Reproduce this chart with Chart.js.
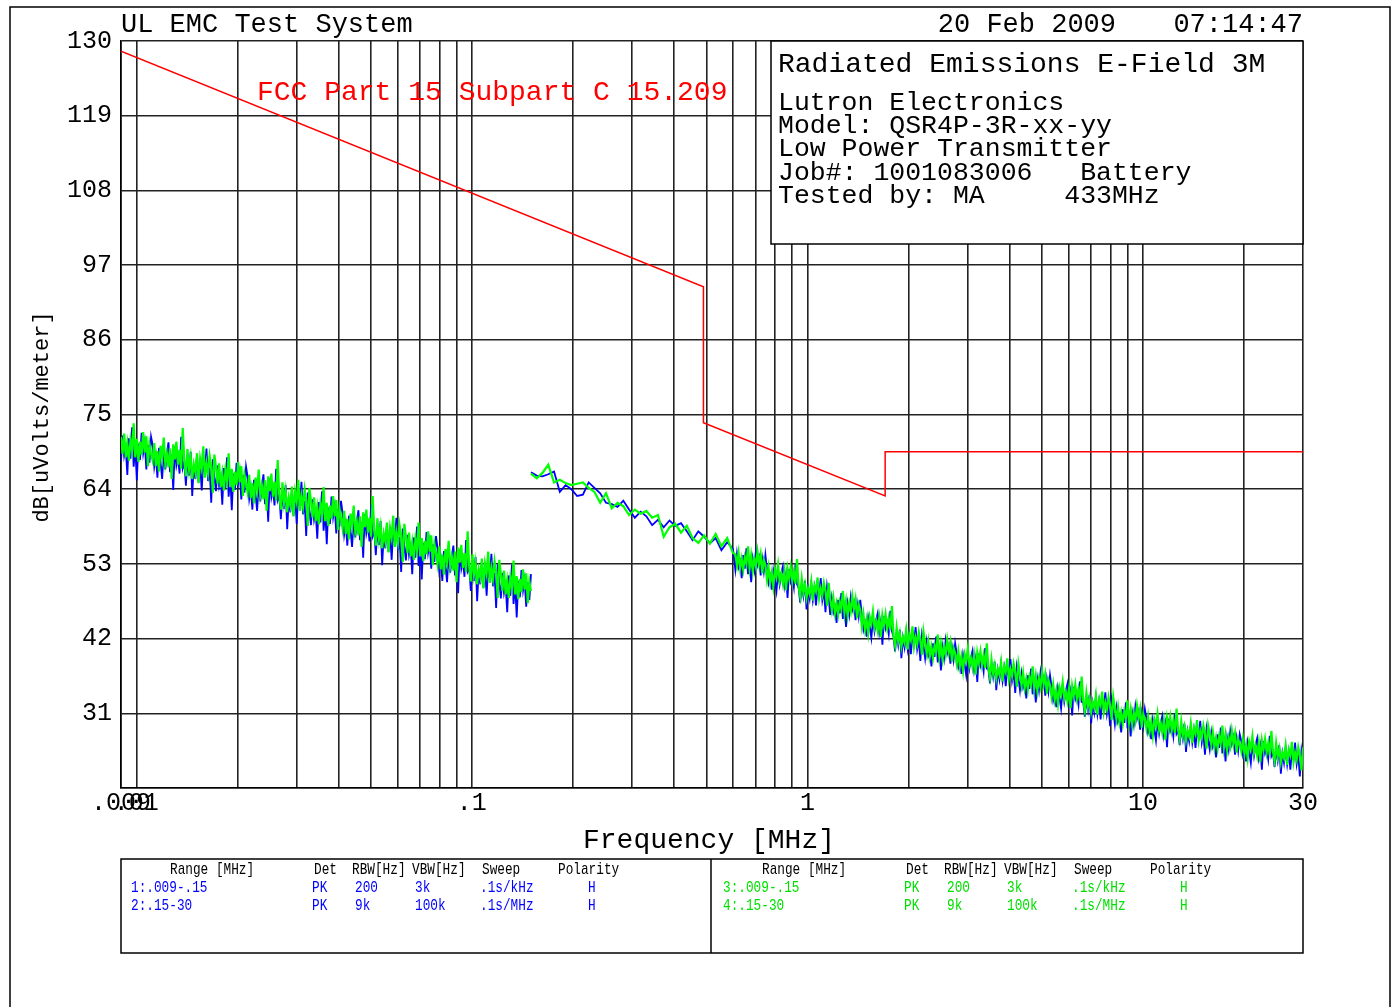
<!DOCTYPE html>
<html>
<head>
<meta charset="utf-8">
<title>Radiated Emissions E-Field 3M</title>
<script src="https://cdn.jsdelivr.net/npm/chart.js@4.4.1/dist/chart.umd.min.js"></script>
<style>
  body { margin: 0; background: #fff; }
  canvas { display: block; }
</style>
</head>
<body>
<canvas id="emcChart" width="1395" height="1007"></canvas>
<script>
const MONO = '"Liberation Mono", "DejaVu Sans Mono", monospace';

// Frequency grid (MHz) and the decades that carry a label
const xGrid = [0.009, 0.01, 0.02, 0.03, 0.04, 0.05, 0.06, 0.07, 0.08, 0.09,
               0.1, 0.2, 0.3, 0.4, 0.5, 0.6, 0.7, 0.8, 0.9,
               1, 2, 3, 4, 5, 6, 7, 8, 9, 10, 20, 30];
const xLabelValues = [0.009, 0.01, 0.1, 1, 10, 30];
const xLabelText = ['.009', '.01', '.1', '1', '10', '30'];

// FCC Part 15.209 limit, dBuV/m at 3 m
const limitFreq = [0.009, 0.49, 0.49, 1.705, 1.705, 30];
const limitLevel = [128.5, 93.8, 73.8, 63.0, 69.5, 69.5];

// Sweep limits (MHz)
const lowStart = 0.009, lowStop = 0.15;
const midStart = 0.15, midStop = 0.6;
const highStart = 0.61, highStop = 30;

// Trace 1 (blue) .009-.15 MHz
const blueLow = [
  68.1, 71.9, 68.9, 70.1, 66.1, 71.5, 68.5, 73.1, 67.3, 70.3, 65.3, 70.7, 68.3, 72.3, 69.3, 70.9, 66.9, 70.5, 67.9, 71.7,
  70.5, 67.3, 68.9, 65.7, 70.1, 67.9, 65.5, 69.7, 66.9, 69.3, 70.9, 66.5, 69.1, 63.9, 70.3, 67.5, 68.7, 66.3, 71.7, 67.1,
  68.0, 64.5, 68.5, 66.0, 69.5, 63.0, 67.5, 65.5, 69.0, 65.0, 67.8, 63.8, 68.2, 66.4, 70.0, 65.2, 67.2, 62.0, 68.4, 65.8,
  63.7, 67.5, 64.5, 65.7, 61.7, 67.1, 64.1, 68.7, 62.9, 65.9, 60.9, 66.3, 63.9, 67.9, 64.9, 66.5, 62.5, 66.1, 63.5, 67.3,
  65.8, 62.6, 64.2, 61.0, 65.4, 63.2, 60.8, 65.0, 62.2, 64.6, 66.2, 61.8, 64.4, 59.2, 65.6, 62.8, 64.0, 61.6, 67.0, 62.4,
  63.1, 59.6, 63.6, 61.1, 64.6, 58.1, 62.6, 60.6, 64.1, 60.1, 62.9, 58.9, 63.3, 61.5, 65.1, 60.3, 62.3, 57.1, 63.5, 60.9,
  58.7, 62.5, 59.5, 60.7, 56.7, 62.1, 59.1, 63.7, 57.9, 60.9, 55.9, 61.3, 58.9, 62.9, 59.9, 61.5, 57.5, 61.1, 58.5, 62.3,
  60.5, 57.3, 58.9, 55.7, 60.1, 57.9, 55.5, 59.7, 56.9, 59.3, 60.9, 56.5, 59.1, 53.9, 60.3, 57.5, 58.7, 56.3, 61.7, 57.1,
  57.8, 54.3, 58.3, 55.8, 59.3, 52.8, 57.3, 55.3, 58.8, 54.8, 57.6, 53.6, 58.0, 56.2, 59.8, 55.0, 57.0, 51.8, 58.2, 55.6,
  53.5, 57.3, 54.3, 55.5, 51.5, 56.9, 53.9, 58.5, 52.7, 55.7, 50.7, 56.1, 53.7, 57.7, 54.7, 56.3, 52.3, 55.9, 53.3, 57.1,
  55.3, 52.1, 53.7, 50.5, 54.9, 52.7, 50.3, 54.5, 51.7, 54.1, 55.7, 51.3, 53.9, 48.7, 55.1, 52.3, 53.5, 51.1, 56.5, 51.9,
  52.5, 49.0, 53.0, 50.5, 54.0, 47.5, 52.0, 50.0, 53.5, 49.5, 52.3, 48.3, 52.7, 50.9, 54.5, 49.7, 51.7, 46.5, 52.9, 50.3,
  47.9, 51.7, 48.7, 49.9, 45.9, 51.3, 48.3, 52.9, 47.1, 50.1, 45.1, 50.5, 48.1, 52.1, 49.1, 50.7, 46.7, 50.3, 47.7, 51.5
];

// Trace 3 (green) .009-.15 MHz
const greenLow = [
  71.7, 69.2, 72.2, 68.7, 70.7, 68.2, 71.2, 69.7, 73.7, 68.7, 71.4, 68.0, 71.0, 69.0, 72.4, 69.4, 71.8, 67.4, 70.6, 69.2,
  68.2, 70.8, 67.4, 69.6, 66.6, 70.4, 68.6, 71.6, 67.8, 69.2, 67.2, 70.0, 65.5, 70.6, 68.4, 71.0, 67.6, 69.8, 67.0, 73.0,
  68.1, 65.9, 69.9, 66.9, 68.7, 65.5, 67.7, 66.5, 69.3, 64.9, 68.5, 67.1, 70.3, 65.7, 67.9, 66.3, 68.9, 67.3, 63.5, 69.1,
  67.3, 64.8, 67.8, 64.3, 66.3, 63.8, 66.8, 65.3, 69.3, 64.3, 67.0, 63.6, 66.6, 64.6, 68.0, 65.0, 67.4, 63.0, 66.2, 64.8,
  63.5, 66.1, 62.7, 64.9, 61.9, 65.7, 63.9, 66.9, 63.1, 64.5, 62.5, 65.3, 60.8, 65.9, 63.7, 66.3, 62.9, 65.1, 62.3, 68.3,
  63.2, 61.0, 65.0, 62.0, 63.8, 60.6, 62.8, 61.6, 64.4, 60.0, 63.6, 62.2, 65.4, 60.8, 63.0, 61.4, 64.0, 62.4, 58.6, 64.2,
  62.3, 59.8, 62.8, 59.3, 61.3, 58.8, 61.8, 60.3, 64.3, 59.3, 62.0, 58.6, 61.6, 59.6, 63.0, 60.0, 62.4, 58.0, 61.2, 59.8,
  58.2, 60.8, 57.4, 59.6, 56.6, 60.4, 58.6, 61.6, 57.8, 59.2, 57.2, 60.0, 55.5, 60.6, 58.4, 61.0, 57.6, 59.8, 57.0, 63.0,
  57.9, 55.7, 59.7, 56.7, 58.5, 55.3, 57.5, 56.3, 59.1, 54.7, 58.3, 56.9, 60.1, 55.5, 57.7, 56.1, 58.7, 57.1, 53.3, 58.9,
  57.1, 54.6, 57.6, 54.1, 56.1, 53.6, 56.6, 55.1, 59.1, 54.1, 56.8, 53.4, 56.4, 54.4, 57.8, 54.8, 57.2, 52.8, 56.0, 54.6,
  53.0, 55.6, 52.2, 54.4, 51.4, 55.2, 53.4, 56.4, 52.6, 54.0, 52.0, 54.8, 50.3, 55.4, 53.2, 55.8, 52.4, 54.6, 51.8, 57.8,
  52.6, 50.4, 54.4, 51.4, 53.2, 50.0, 52.2, 51.0, 53.8, 49.4, 53.0, 51.6, 54.8, 50.2, 52.4, 50.8, 53.4, 51.8, 48.0, 53.6,
  51.5, 49.0, 52.0, 48.5, 50.5, 48.0, 51.0, 49.5, 53.5, 48.5, 51.2, 47.8, 50.8, 48.8, 52.2, 49.2, 51.6, 47.2, 50.4, 49.0
];

// Trace 2 (blue) .15-30 MHz, slow start then the dense run
const blueMid = [
  66.5, 66.0, 65.9, 66.2, 66.6, 63.6, 64.6, 64.0, 63.0, 63.2,
  65.0, 64.2, 63.4, 62.0, 61.8, 61.4, 62.3, 61.0, 59.8, 60.7,
  60.0, 58.7, 59.5, 58.4, 59.4, 58.6, 59.0, 57.8, 56.5, 57.8,
  57.0, 56.0, 56.8, 55.0, 56.2, 55.2
];
const blueHigh = [
  52.1, 54.5, 52.5, 53.3, 50.9, 54.3, 52.3, 55.3, 51.5, 53.5, 50.3, 53.7, 52.1, 54.7, 52.9, 53.9, 51.3, 53.7, 51.9, 54.3,
  52.2, 50.2, 51.2, 49.2, 52.0, 50.6, 49.0, 51.8, 50.0, 51.6, 52.6, 49.8, 51.4, 48.0, 52.2, 50.4, 51.2, 49.6, 53.0, 50.0,
  49.5, 47.3, 49.9, 48.3, 50.5, 46.3, 49.3, 47.9, 50.1, 47.7, 49.5, 46.9, 49.7, 48.5, 50.9, 47.7, 49.1, 45.9, 49.7, 48.1,
  45.5, 47.9, 45.9, 46.7, 44.3, 47.7, 45.7, 48.7, 44.9, 46.9, 43.7, 47.1, 45.5, 48.1, 46.3, 47.3, 44.7, 47.1, 45.3, 47.7,
  45.3, 43.3, 44.3, 42.3, 45.1, 43.7, 42.1, 44.9, 43.1, 44.7, 45.7, 42.9, 44.5, 41.1, 45.3, 43.5, 44.3, 42.7, 46.1, 43.1,
  42.3, 40.1, 42.7, 41.1, 43.3, 39.1, 42.1, 40.7, 42.9, 40.5, 42.3, 39.7, 42.5, 41.3, 43.7, 40.5, 41.9, 38.7, 42.5, 40.9,
  39.1, 41.5, 39.5, 40.3, 37.9, 41.3, 39.3, 42.3, 38.5, 40.5, 37.3, 40.7, 39.1, 41.7, 39.9, 40.9, 38.3, 40.7, 38.9, 41.3,
  39.8, 37.8, 38.8, 36.8, 39.6, 38.2, 36.6, 39.4, 37.6, 39.2, 40.2, 37.4, 39.0, 35.6, 39.8, 38.0, 38.8, 37.2, 40.6, 37.6,
  37.6, 35.4, 38.0, 36.4, 38.6, 34.4, 37.4, 36.0, 38.2, 35.8, 37.6, 35.0, 37.8, 36.6, 39.0, 35.8, 37.2, 34.0, 37.8, 36.2,
  34.4, 36.8, 34.8, 35.6, 33.2, 36.6, 34.6, 37.6, 33.8, 35.8, 32.6, 36.0, 34.4, 37.0, 35.2, 36.2, 33.6, 36.0, 34.2, 36.6,
  34.9, 32.9, 33.9, 31.9, 34.7, 33.3, 31.7, 34.5, 32.7, 34.3, 35.3, 32.5, 34.1, 30.7, 34.9, 33.1, 33.9, 32.3, 35.7, 32.7,
  32.7, 30.5, 33.1, 31.5, 33.7, 29.5, 32.5, 31.1, 33.3, 30.9, 32.7, 30.1, 32.9, 31.7, 34.1, 30.9, 32.3, 29.1, 32.9, 31.3,
  29.4, 31.8, 29.8, 30.6, 28.2, 31.6, 29.6, 32.6, 28.8, 30.8, 27.6, 31.0, 29.4, 32.0, 30.2, 31.2, 28.6, 31.0, 29.2, 31.6,
  30.2, 28.2, 29.2, 27.2, 30.0, 28.6, 27.0, 29.8, 28.0, 29.6, 30.6, 27.8, 29.4, 26.0, 30.2, 28.4, 29.2, 27.6, 31.0, 28.0,
  28.5, 26.3, 28.9, 27.3, 29.5, 25.3, 28.3, 26.9, 29.1, 26.7, 28.5, 25.9, 28.7, 27.5, 29.9, 26.7, 28.1, 24.9, 28.7, 27.1,
  25.7, 28.1, 26.1, 26.9, 24.5, 27.9, 25.9, 28.9, 25.1, 27.1, 23.9, 27.3, 25.7, 28.3, 26.5, 27.5, 24.9, 27.3, 25.5, 27.9,
  26.9, 24.9, 25.9, 23.9, 26.7, 25.3, 23.7, 26.5, 24.7, 26.3, 27.3, 24.5, 26.1, 22.7, 26.9, 25.1, 25.9, 24.3, 27.7, 24.7,
  25.3, 23.1, 25.7, 24.1, 26.3, 22.1, 25.1, 23.7, 25.9, 23.5, 25.3, 22.7, 25.5, 24.3, 26.7, 23.5, 24.9, 21.7, 25.5, 23.9
];

// Trace 4 (green) .15-30 MHz, slow start then the dense run
const greenMid = [
  66.3, 65.6, 66.4, 67.6, 65.0, 65.4, 64.9, 64.6, 64.8, 65.0,
  64.2, 63.6, 62.0, 63.4, 61.2, 62.0, 61.5, 60.2, 61.0, 60.4,
  60.8, 59.8, 60.2, 57.0, 58.4, 58.9, 57.6, 58.6, 56.8, 56.1,
  57.2, 56.0, 57.4, 55.6, 56.8, 54.6
];
const greenHigh = [
  54.4, 52.8, 54.6, 52.4, 53.8, 52.2, 54.0, 53.0, 55.6, 52.4, 54.2, 52.0, 53.8, 52.6, 54.8, 53.0, 54.4, 51.6, 53.6, 52.8,
  50.7, 52.5, 50.3, 51.7, 49.7, 52.1, 51.1, 52.9, 50.5, 51.5, 50.1, 51.9, 49.1, 52.3, 50.9, 52.5, 50.5, 51.9, 50.1, 53.7,
  49.6, 48.2, 50.8, 48.8, 50.0, 48.0, 49.4, 48.6, 50.4, 47.6, 49.8, 49.0, 51.0, 48.0, 49.4, 48.4, 50.2, 49.0, 46.8, 50.2,
  47.8, 46.2, 48.0, 45.8, 47.2, 45.6, 47.4, 46.4, 49.0, 45.8, 47.6, 45.4, 47.2, 46.0, 48.2, 46.4, 47.8, 45.0, 47.0, 46.2,
  43.8, 45.6, 43.4, 44.8, 42.8, 45.2, 44.2, 46.0, 43.6, 44.6, 43.2, 45.0, 42.2, 45.4, 44.0, 45.6, 43.6, 45.0, 43.2, 46.8,
  42.4, 41.0, 43.6, 41.6, 42.8, 40.8, 42.2, 41.4, 43.2, 40.4, 42.6, 41.8, 43.8, 40.8, 42.2, 41.2, 43.0, 41.8, 39.6, 43.0,
  41.4, 39.8, 41.6, 39.4, 40.8, 39.2, 41.0, 40.0, 42.6, 39.4, 41.2, 39.0, 40.8, 39.6, 41.8, 40.0, 41.4, 38.6, 40.6, 39.8,
  38.3, 40.1, 37.9, 39.3, 37.3, 39.7, 38.7, 40.5, 38.1, 39.1, 37.7, 39.5, 36.7, 39.9, 38.5, 40.1, 38.1, 39.5, 37.7, 41.3,
  37.7, 36.3, 38.9, 36.9, 38.1, 36.1, 37.5, 36.7, 38.5, 35.7, 37.9, 37.1, 39.1, 36.1, 37.5, 36.5, 38.3, 37.1, 34.9, 38.3,
  36.7, 35.1, 36.9, 34.7, 36.1, 34.5, 36.3, 35.3, 37.9, 34.7, 36.5, 34.3, 36.1, 34.9, 37.1, 35.3, 36.7, 33.9, 35.9, 35.1,
  33.4, 35.2, 33.0, 34.4, 32.4, 34.8, 33.8, 35.6, 33.2, 34.2, 32.8, 34.6, 31.8, 35.0, 33.6, 35.2, 33.2, 34.6, 32.8, 36.4,
  32.8, 31.4, 34.0, 32.0, 33.2, 31.2, 32.6, 31.8, 33.6, 30.8, 33.0, 32.2, 34.2, 31.2, 32.6, 31.6, 33.4, 32.2, 30.0, 33.4,
  31.7, 30.1, 31.9, 29.7, 31.1, 29.5, 31.3, 30.3, 32.9, 29.7, 31.5, 29.3, 31.1, 29.9, 32.1, 30.3, 31.7, 28.9, 30.9, 30.1,
  28.7, 30.5, 28.3, 29.7, 27.7, 30.1, 29.1, 30.9, 28.5, 29.5, 28.1, 29.9, 27.1, 30.3, 28.9, 30.5, 28.5, 29.9, 28.1, 31.7,
  28.6, 27.2, 29.8, 27.8, 29.0, 27.0, 28.4, 27.6, 29.4, 26.6, 28.8, 28.0, 30.0, 27.0, 28.4, 27.4, 29.2, 28.0, 25.8, 29.2,
  28.0, 26.4, 28.2, 26.0, 27.4, 25.8, 27.6, 26.6, 29.2, 26.0, 27.8, 25.6, 27.4, 26.2, 28.4, 26.6, 28.0, 25.2, 27.2, 26.4,
  25.4, 27.2, 25.0, 26.4, 24.4, 26.8, 25.8, 27.6, 25.2, 26.2, 24.8, 26.6, 23.8, 27.0, 25.6, 27.2, 25.2, 26.6, 24.8, 28.4,
  25.4, 24.0, 26.6, 24.6, 25.8, 23.8, 25.2, 24.4, 26.2, 23.4, 25.6, 24.8, 26.8, 23.8, 25.2, 24.2, 26.0, 24.8, 22.6, 26.0
];

// Bottom table rows
const tableHead = ['Range [MHz]', 'Det', 'RBW[Hz]', 'VBW[Hz]', 'Sweep', 'Polarity'];
const tableBlue = [
  ['1:.009-.15', 'PK', '200', '3k', '.1s/kHz', 'H'],
  ['2:.15-30', 'PK', '9k', '100k', '.1s/MHz', 'H']
];
const tableGreen = [
  ['3:.009-.15', 'PK', '200', '3k', '.1s/kHz', 'H'],
  ['4:.15-30', 'PK', '9k', '100k', '.1s/MHz', 'H']
];

// Sample points are spaced evenly on the log axis between the sweep limits
function sweep(start, stop, values) {
  const a = Math.log10(start), b = Math.log10(stop);
  const n = values.length - 1;
  return values.map((v, i) => ({ x: Math.pow(10, a + (b - a) * i / n), y: v }));
}

function drawText(ctx, text, x, y, size, color, align, squeeze) {
  ctx.save();
  ctx.font = size + 'px ' + MONO;
  ctx.fillStyle = color;
  ctx.textAlign = align || 'left';
  ctx.textBaseline = 'middle';
  ctx.translate(x, y);
  ctx.scale(squeeze || 1, 1);
  ctx.fillText(text, 0, 0);
  ctx.restore();
}

function drawTableRow(ctx, cells, xs, y, color) {
  cells.forEach((c, i) => drawText(ctx, c, xs[i], y, 17, color, 'left', 0.75));
}

// Header box, titles, table and frame
const decorations = {
  id: 'decorations',
  afterDraw(chart) {
    const ctx = chart.ctx;
    const area = chart.chartArea;

    ctx.save();
    ctx.strokeStyle = '#000';
    ctx.lineWidth = 1.5;
    // outer frame
    ctx.beginPath();
    ctx.moveTo(10, 1010);
    ctx.lineTo(10, 7);
    ctx.lineTo(1390, 7);
    ctx.lineTo(1390, 1010);
    ctx.stroke();

    // header box over the grid
    ctx.fillStyle = '#fff';
    ctx.fillRect(771, area.top, area.right - 771, 203);
    ctx.strokeRect(771, area.top, area.right - 771, 203);

    // settings table
    ctx.strokeRect(area.left, 859, area.right - area.left, 94);
    ctx.beginPath();
    ctx.moveTo(711, 859);
    ctx.lineTo(711, 953);
    ctx.stroke();
    ctx.restore();

    drawText(ctx, 'UL EMC Test System', 121, 25, 27, '#000');
    drawText(ctx, '20 Feb 2009', 1116, 25, 27, '#000', 'right');
    drawText(ctx, '07:14:47', 1303, 25, 27, '#000', 'right');

    drawText(ctx, 'Radiated Emissions E-Field 3M', 778, 65, 28, '#000');
    const info = ['Lutron Electronics', 'Model: QSR4P-3R-xx-yy', 'Low Power Transmitter',
                  'Job#: 1001083006   Battery', 'Tested by: MA     433MHz'];
    info.forEach((line, i) => drawText(ctx, line, 778, 103 + i * 23.2, 26.5, '#000'));

    drawText(ctx, 'FCC Part 15 Subpart C 15.209', 257, 93, 28, '#ff0000');

    // axis titles
    ctx.save();
    ctx.translate(42, 417);
    ctx.rotate(-Math.PI / 2);
    drawText(ctx, 'dB[uVolts/meter]', 0, 0, 22, '#000', 'center');
    ctx.restore();
    drawText(ctx, 'Frequency [MHz]', 709, 841, 28, '#000', 'center');

    const headX = [170, 314, 352, 412, 482, 558];
    const rowX = [131, 312, 355, 415, 480, 588];
    const shift = 592;
    drawTableRow(ctx, tableHead, headX, 869, '#000');
    drawTableRow(ctx, tableHead, headX.map(x => x + shift), 869, '#000');
    tableBlue.forEach((r, i) => drawTableRow(ctx, r, rowX, 887 + i * 18, '#0000ff'));
    tableGreen.forEach((r, i) => drawTableRow(ctx, r, rowX.map(x => x + shift), 887 + i * 18, '#00e000'));
  }
};

const ctx = document.getElementById('emcChart').getContext('2d');

const limitData = limitFreq.map((f, i) => ({ x: f, y: limitLevel[i] }));

new Chart(ctx, {
  type: 'line',
  data: {
    datasets: [
      { label: 'FCC 15.209', data: limitData, borderColor: '#ff0000', borderWidth: 1.5 },
      { label: '3', data: sweep(lowStart, lowStop, greenLow), borderColor: '#00ff00', borderWidth: 2.2 },
      { label: '4', data: sweep(midStart, midStop, greenMid).concat(sweep(highStart, highStop, greenHigh)),
        borderColor: '#00ff00', borderWidth: 2.2 },
      { label: '1', data: sweep(lowStart, lowStop, blueLow), borderColor: '#0000ff', borderWidth: 1.8 },
      { label: '2', data: sweep(midStart, midStop, blueMid).concat(sweep(highStart, highStop, blueHigh)),
        borderColor: '#0000ff', borderWidth: 1.8 }
    ]
  },
  options: {
    responsive: false,
    animation: false,
    layout: { padding: { top: 41, right: 92, bottom: 0, left: 0 } },
    elements: { point: { radius: 0 }, line: { tension: 0, fill: false } },
    plugins: { legend: { display: false }, tooltip: { enabled: false } },
    scales: {
      x: {
        type: 'logarithmic',
        min: 0.009,
        max: 30,
        afterFit: (scale) => { scale.height = 219; },
        afterBuildTicks: (scale) => { scale.ticks = xGrid.map(v => ({ value: v })); },
        grid: { color: '#222', lineWidth: 1.6, drawTicks: false },
        border: { color: '#000', width: 1.6 },
        ticks: {
          autoSkip: false,
          maxRotation: 0,
          padding: 0,
          color: '#000',
          font: { family: MONO, size: 25 },
          callback: (v) => {
            const k = xLabelValues.indexOf(v);
            return k >= 0 ? xLabelText[k] : '';
          }
        }
      },
      y: {
        min: 20,
        max: 130,
        afterFit: (scale) => { scale.width = 121; },
        grid: { color: '#222', lineWidth: 1.6, drawTicks: false },
        border: { color: '#000', width: 1.6 },
        ticks: {
          stepSize: 11,
          padding: 9,
          color: '#000',
          font: { family: MONO, size: 25 },
          callback: (v) => (v === 20 ? '' : v)
        }
      }
    }
  },
  plugins: [decorations]
});
</script>
</body>
</html>
